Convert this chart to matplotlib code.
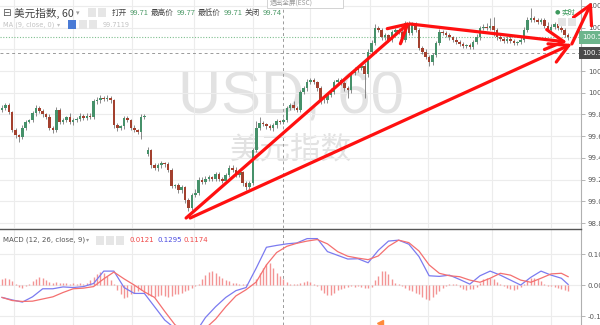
import numpy as np
import matplotlib
matplotlib.use("Agg")
import matplotlib.pyplot as plt
from matplotlib.transforms import blended_transform_factory
from matplotlib.patches import Rectangle

plt.rcParams['font.family'] = ['DejaVu Sans', 'Noto Sans CJK SC']

# ---- dados (USD index, 60 min) ----
closes = [
    99.86, 99.89, 99.82, 99.66, 99.61, 99.59, 99.68, 99.73, 99.75, 99.81,
    99.86, 99.83, 99.80, 99.78, 99.68, 99.66, 99.84, 99.73, 99.75, 99.78,
    99.73, 99.75, 99.76, 99.79, 99.77, 99.79, 99.78, 99.92, 99.93, 99.95,
    99.94, 99.95, 99.93, 99.70, 99.68, 99.69, 99.77, 99.75, 99.68, 99.66,
    99.64, 99.78, 99.78,
    99.47, 99.33, 99.31, 99.33, 99.35, 99.34, 99.29, 99.14, 99.15, 99.10,
    99.13, 99.01, 98.94, 99.06, 99.08, 99.20, 99.18, 99.21, 99.22, 99.21,
    99.25, 99.21, 99.19, 99.24, 99.31, 99.29, 99.24, 99.27, 99.17, 99.13,
    99.17, 99.47, 99.68, 99.72, 99.71, 99.69, 99.68, 99.70, 99.74, 99.73,
    99.75, 99.86, 99.89, 99.86, 99.84, 100.01, 100.04, 100.10, 100.12, 100.10,
    100.04, 99.93, 99.93, 99.98, 100.01, 100.10, 100.12, 100.09, 100.04, 100.03,
    100.18, 100.21, 100.23, 100.25, 100.17, 100.38, 100.46, 100.60, 100.58, 100.51,
    100.53, 100.49, 100.56, 100.58, 100.56, 100.49, 100.64, 100.55, 100.63, 100.58,
    100.41, 100.38, 100.33, 100.28, 100.35, 100.46, 100.56, 100.55, 100.53, 100.51,
    100.49, 100.47, 100.45, 100.43, 100.44, 100.42, 100.47, 100.51, 100.60, 100.61,
    100.60, 100.62, 100.58, 100.51, 100.50, 100.48, 100.50, 100.48, 100.46, 100.47,
    100.49, 100.58, 100.67, 100.69, 100.67, 100.65, 100.67, 100.62, 100.58, 100.61,
    100.63, 100.60, 100.58, 100.53, 100.51,
]
# aberturas que nao seguem o fechamento anterior (inicio e gap)
gap_opens = {0: 99.84, 43: 99.44}

# pavios (centesimos)
wick_up = [
    3, 2, 2, 1, 2, 1, 2, 2, 1, 2, 3, 2,
    2, 1, 2, 1, 3, 2, 2, 1, 3, 2, 2, 2,
    1, 2, 2, 2, 3, 3, 2, 3, 2, 1, 2, 1,
    2, 2, 1, 2, 1, 2, 2, 3, 1, 2, 2, 2,
    1, 2, 2, 1, 2, 2, 1, 2, 2, 3, 2, 2,
    2, 2, 1, 2, 2, 1, 2, 2, 2, 3, 2, 1,
    2, 2, 2, 6, 6, 2, 1, 2, 2, 2, 1, 2,
    2, 2, 3, 2, 2, 2, 3, 2, 2, 1, 2, 2,
    2, 3, 2, 2, 2, 2, 2, 2, 3, 2, 2, 2,
    2, 3, 3, 2, 2, 2, 1, 2, 2, 2, 3, 2,
    2, 2, 2, 2, 2, 2, 2, 2, 2, 3, 2, 2,
    2, 1, 2, 2, 2, 1, 2, 2, 3, 2, 2, 3,
    7, 8, 2, 2, 1, 2, 2, 2, 1, 2, 3, 3,
    9, 2, 2, 2, 2, 3, 2, 2, 2, 2, 2, 2,
]
wick_dn = [
    2, 2, 2, 2, 3, 4, 2, 2, 1, 2, 2, 2,
    2, 2, 2, 3, 2, 2, 2, 2, 2, 3, 2, 2,
    2, 2, 2, 2, 2, 2, 2, 2, 2, 2, 3, 2,
    2, 2, 2, 2, 2, 7, 2, 2, 2, 2, 3, 2,
    2, 2, 2, 2, 2, 2, 3, 3, 2, 2, 2, 2,
    2, 2, 2, 2, 2, 2, 2, 2, 2, 2, 2, 3,
    3, 2, 2, 2, 2, 2, 2, 2, 3, 2, 2, 2,
    2, 2, 2, 2, 2, 2, 2, 2, 2, 2, 3, 2,
    2, 2, 2, 2, 2, 2, 8, 3, 2, 2, 2, 22,
    2, 2, 2, 2, 2, 2, 2, 2, 2, 2, 2, 2,
    2, 2, 2, 2, 2, 2, 3, 2, 2, 2, 2, 2,
    2, 2, 2, 2, 2, 2, 2, 2, 2, 2, 2, 2,
    2, 6, 2, 2, 2, 2, 2, 2, 2, 2, 2, 2,
    2, 2, 2, 2, 2, 2, 2, 2, 2, 2, 2, 2,
]

# MACD (milesimos), amostrado a cada 3 candles
macd_idx = list(range(0, 168, 3)) + [167]
macd_line = [
    -40, -48, -55, -38, -12, -12, -6, -8, -5, 5,
    45, 45, -8, -27, -27, -70, -113, -140, -155, -155,
    -105, -70, -40, -18, -8, 55, 122, 128, 133, 136,
    150, 150, 108, 96, 84, 85, 72, 112, 142, 145,
    132, 92, 30, 28, 32, 18, 3, 30, 45, 32,
    16, 0, 25, 45, 32, 22, 2,
]
signal_line = [
    -40, -50, -53, -52, -45, -38, -24, -12, -10, -5,
    20, 42, 20, 0, -22, -40, -85, -128, -150, -155,
    -140, -110, -70, -35, -15, 10, 65, 105, 125, 135,
    142, 147, 133, 108, 93, 87, 82, 94, 125, 145,
    137, 110, 65, 38, 30, 27, 16, 9, 22, 38,
    32, 16, 9, 22, 36, 38, 27,
]
# histograma (milesimos), um por candle
hist = [
    20, 22, 18, 12, 5, -5, -8, -3, 5, 12, 20, 25,
    22, 15, 10, 8, 10, 8, 6, 8, 5, 6, 4, 6,
    4, 8, 15, 25, 35, 42, 40, 30, 15, 2, -15, -30,
    -42, -40, -30, -25, -20, -15, -25, -32, -35, -38, -35, -32,
    -35, -38, -35, -30, -28, -25, -20, -15, -8, -3, 5, 18,
    32, 42, 44, 38, 30, 22, 15, 12, 8, 6, 5, 3,
    2, 0, 5, 20, 40, 55, 68, 70, 55, 40, 28, 18,
    10, 4, 3, 3, 6, 10, 12, 10, 5, -3, -15, -25,
    -32, -33, -25, -15, -12, -8, -5, -4, -5, -4, -6, -8,
    -10, -5, 15, 30, 45, 45, 35, 20, 8, 2, -2, -8,
    -15, -20, -25, -30, -38, -45, -48, -40, -28, -18, -8, -2,
    3, 5, 2, -6, -12, -15, -14, -12, -5, 8, 18, 24,
    22, 18, 10, 3, -4, -10, -14, -15, -12, -6, 5, 15,
    22, 24, 20, 12, 4, -2, -3, -5, -8, -12, -16, -18,
]

# linhas de grade verticais (posicoes em candles) e cursor
time_grid = [3.5, 20.9, 38.3, 56.6, 74.0, 90.9, 108.6, 125.7, 144.5, 162.0]
cursor_x, cursor_price = 82.9, 100.37
last_price = 100.51

# setas desenhadas a mao: (x0, p0, x1, p1)
arrows = [
    (54.3, 98.846, 120.4, 100.653),
    (55.5, 98.846, 168.1, 100.45),
    (120.4, 100.634, 166.7, 100.468),
    (168.1, 100.45, 174.0, 100.837),
]

UP, DOWN, WICK = '#46916a', '#a3402e', '#777777'
GRID = '#ececec'


def abrir_precos(closes, gap_opens):
    opens = []
    for i, c in enumerate(closes):
        opens.append(gap_opens[i] if i in gap_opens else closes[i - 1])
    return opens


def px(x, y):
    return x / 600, 1 - y / 325


fig = plt.figure(figsize=(6, 3.25), dpi=100)
ax = fig.add_axes([0, 97 / 325, 581 / 600, 228 / 325])
ax2 = fig.add_axes([0, 0, 581 / 600, 96 / 325])

n = len(closes)
xs = np.arange(n)
opens = abrir_precos(closes, gap_opens)
c = np.array(closes)
o = np.array(opens)
hi = np.maximum(o, c) + np.array(wick_up) / 100
lo = np.minimum(o, c) - np.array(wick_dn) / 100
cores = [UP if cc >= oo else DOWN for oo, cc in zip(o, c)]

for a in (ax, ax2):
    a.set_xlim(-0.6, 170.8)
    a.set_xticks(time_grid)
    a.grid(True, color=GRID, lw=0.8, zorder=0)
    a.set_axisbelow(True)
    a.tick_params(axis='x', bottom=False, labelbottom=False)
    for s in ('left', 'top', 'bottom'):
        a.spines[s].set_visible(False)
    a.spines['right'].set_color('#b0b0b0')
    a.spines['right'].set_linewidth(0.8)
    a.yaxis.tick_right()
    a.tick_params(axis='y', length=3, width=0.6, color='#aaaaaa',
                  labelsize=5, labelcolor='#555555', pad=2)
    a.axvline(cursor_x, color='#9a9a9a', lw=0.7, ls=(0, (3, 3)), zorder=1)

# marca d'agua
ax.text(0.5, 0.504, 'USD, 60', transform=ax.transAxes, ha='center',
        va='baseline', fontsize=43, color='#e2e2e2', family='Liberation Sans',
        zorder=0.5)
ax.text(0.5, 0.303, '美元指数', transform=ax.transAxes, ha='center',
        va='baseline', fontsize=22, color='#e2e2e2',
        family=['Noto Sans CJK SC', 'DejaVu Sans'], zorder=0.5)

# candles
ax.vlines(xs, lo, hi, color=WICK, lw=0.6, zorder=2)
alturas = np.maximum(np.abs(c - o), 0.004)
ax.bar(xs, alturas, bottom=np.minimum(o, c), width=0.75, color=cores,
       lw=0, zorder=3)

ax.set_ylim(98.754, 100.855)
ax.set_yticks(np.arange(98.8, 100.81, 0.2))
ax.yaxis.set_major_formatter(plt.FormatStrFormatter('%.2f'))
ax.axhline(cursor_price, color='#9a9a9a', lw=0.7, ls=(0, (3, 3)), zorder=1)
ax.axhline(last_price, color='#7fbf8f', lw=0.8, ls=(0, (1, 1.5)), zorder=1)

tr = blended_transform_factory(ax.transAxes, ax.transData)
ax.text(1.002, last_price, '%.2f' % last_price, transform=tr, ha='left',
        va='center', fontsize=5, color='white', zorder=6, clip_on=False,
        bbox=dict(boxstyle='square,pad=0.45', fc='#6db58c', ec='none'))
ax.text(1.002, cursor_price, '%.2f' % cursor_price, transform=tr, ha='left',
        va='center', fontsize=5, color='white', zorder=6, clip_on=False,
        bbox=dict(boxstyle='square,pad=0.45', fc='#4a4a4a', ec='none'))

# setas
for x0, p0, x1, p1 in arrows:
    ann = ax.annotate('', xy=(x1, p1), xytext=(x0, p0), annotation_clip=False,
                      arrowprops=dict(arrowstyle='->,head_length=0.55,head_width=0.3',
                                      color='#ff1010', lw=2.3, mutation_scale=24,
                                      shrinkA=0, shrinkB=0), zorder=8)
    ann.arrow_patch.set_clip_on(False)

# MACD
hv = np.array(hist) / 1000
ax2.vlines(xs, 0, hv, color='#f39494', lw=1.0, zorder=2)
ax2.plot(macd_idx, np.array(macd_line) / 1000, color='#7b7bf0', lw=0.9, zorder=3)
ax2.plot(macd_idx, np.array(signal_line) / 1000, color='#f47070', lw=0.9, zorder=3)
ax2.set_ylim(-0.129, 0.181)
ax2.set_yticks([-0.1, 0.0, 0.1])
ax2.yaxis.set_major_formatter(plt.FormatStrFormatter('%.3f'))
ax2.spines['top'].set_visible(True)
ax2.spines['top'].set_color('#555555')
ax2.spines['top'].set_linewidth(1.0)
ax2.plot([111.5], [-0.123], marker='<', ms=4, color='#ff8a3a', zorder=4,
         clip_on=False)

# cabecalho
cjk = ['Noto Sans CJK SC', 'DejaVu Sans']
fig.text(*px(2, 13), '⊟', fontsize=7.5, color='#555555', va='center', family=cjk)
fig.text(*px(14, 13), '美元指数, 60', fontsize=7.7, color='#444444', va='center',
         family=cjk)
fig.text(*px(76, 13), '▾', fontsize=5, color='#999999', va='center')
for x in (88, 98):
    fig.patches.append(Rectangle(px(x, 17), 8 / 600, 9 / 325, transform=fig.transFigure,
                                 fc='#e6e6e6', ec='none'))
itens = [(112, '打开', '#444444'), (130, '99.71', '#4d9a68'),
         (151, '最高价', '#444444'), (177, '99.77', '#4d9a68'),
         (198, '最低价', '#444444'), (224, '99.71', '#4d9a68'),
         (245, '关闭', '#444444'), (263, '99.74', '#4d9a68')]
for x, t, col in itens:
    fig.text(*px(x, 13), t, fontsize=5.5, color=col, va='center', family=cjk)

fig.text(*px(3, 25), 'MA (9, close, 0)', fontsize=4.8, color='#c2c2c2', va='center')
fig.text(*px(57, 25), '▾', fontsize=4.5, color='#c2c2c2', va='center')
fig.patches.append(Rectangle(px(68, 29), 8 / 600, 9 / 325, transform=fig.transFigure,
                             fc='#4a7bd6', ec='none'))
for x in (79, 89):
    fig.patches.append(Rectangle(px(x, 29), 8 / 600, 9 / 325, transform=fig.transFigure,
                                 fc='#e6e6e6', ec='none'))
fig.text(*px(103, 25), '99.7119', fontsize=4.8, color='#c2c2c2', va='center')

fig.text(*px(3, 240), 'MACD (12, 26, close, 9)', fontsize=5, color='#555555', va='center')
fig.text(*px(86, 240), '▾', fontsize=4.5, color='#999999', va='center')
for x in (96, 106, 116):
    fig.patches.append(Rectangle(px(x, 245), 8 / 600, 9 / 325, transform=fig.transFigure,
                                 fc='#e6e6e6', ec='none'))
fig.text(*px(130, 240), '0.0121', fontsize=5, color='#f04848', va='center')
fig.text(*px(157, 240), '0.1295', fontsize=5, color='#4a4ae0', va='center')
fig.text(*px(183, 240), '0.1174', fontsize=5, color='#f04848', va='center')

fig.text(*px(555, 12), '●', fontsize=4.5, color='#3e9a5e', va='center')
fig.text(*px(562, 12), '实时', fontsize=5, color='#3e9a5e', va='center', family=cjk)
for x in (558, 568):
    fig.patches.append(Rectangle(px(x, 26), 8 / 600, 8 / 325, transform=fig.transFigure,
                                 fc='#e4e4e4', ec='none'))

fig.patches.append(Rectangle(px(267, 8), 76 / 600, 12 / 325, transform=fig.transFigure,
                             fc='white', ec='#cccccc', lw=0.6))
fig.text(*px(270, 3), '退出全屏(ESC)', fontsize=4.8, color='#999999', va='center',
         family=cjk)

fig.savefig('out.png', dpi=100)
